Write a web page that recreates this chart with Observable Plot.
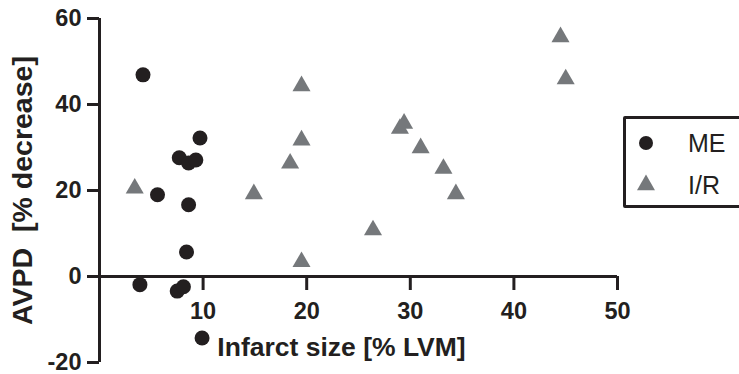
<!DOCTYPE html>
<html>
<head>
<meta charset="utf-8">
<script src="https://cdn.jsdelivr.net/npm/d3@7"></script>
<script src="https://cdn.jsdelivr.net/npm/@observablehq/plot@0.6"></script>
<style>
  html, body { margin: 0; padding: 0; background: #fff; overflow: hidden; }
  #wrap { position: relative; width: 739px; height: 374px; overflow: hidden; font-family: "Liberation Sans", Arial, sans-serif; }
  #legend { position: absolute; left: 623px; top: 116px; width: 140px; height: 86px; border: 3px solid #231f20; border-radius: 2px; box-sizing: content-box; }
  #legend svg { position: absolute; left: 0; top: 0; }
  .lab { position: absolute; left: 62px; font-size: 25px; color: #231f20; line-height: 1; }
</style>
</head>
<body>
<div id="wrap"></div>
<script>
// Data
const meX = [4.2, 5.6, 7.7, 8.6, 9.3, 9.7, 8.6, 8.4, 3.9, 7.5, 8.1, 9.9];
const meY = [46.9, 19.0, 27.6, 26.4, 27.1, 32.2, 16.7, 5.7, -1.9, -3.4, -2.4, -14.3];
const irX = [3.4, 14.9, 18.4, 19.5, 19.5, 19.5, 26.4, 29.0, 29.4, 31.0, 33.2, 34.4, 44.5, 45.0];
const irY = [20.5, 19.2, 26.3, 44.3, 31.7, 3.4, 10.8, 34.4, 35.6, 29.9, 25.1, 19.2, 55.7, 45.9];
const xTicks = [10, 20, 30, 40, 50];
const yTicks = [-20, 0, 20, 40, 60];
const seriesNames = ["ME", "I/R"];
const xTitle = "Infarct size [% LVM]";
const yTitle = "AVPD  [% decrease]";

const ink = "#231f20";
const grey = "#75787b";

const me = meX.map((x, i) => ({x, y: meY[i], s: seriesNames[0]}));
const ir = irX.map((x, i) => ({x, y: irY[i], s: seriesNames[1]}));

const W = 739, H = 374;
const mL = 99, mR = 122, mT = 18, mB = 12;
const yDom = [-20, 60];
const pxPerUnit = (H - mT - mB) / (yDom[1] - yDom[0]);
const xAxisShift = -(0 - yDom[0]) * pxPerUnit;

const chart = Plot.plot({
  width: W, height: H,
  marginLeft: mL, marginRight: mR, marginTop: mT, marginBottom: mB,
  x: {domain: [0, 50]},
  y: {domain: yDom},
  style: {fontFamily: "'Liberation Sans', Arial, sans-serif", color: ink, background: "#fff", overflow: "visible"},
  marks: [
    Plot.axisY({ticks: yTicks, tickSize: 12, tickPadding: 6, strokeWidth: 3, label: null,
      fontSize: 23.5, fontWeight: "bold", stroke: ink, fill: ink, tickFormat: d => String(d)}),
    Plot.axisX({ticks: xTicks, tickSize: 14, tickPadding: 12, strokeWidth: 3, label: null, dy: xAxisShift,
      fontSize: 23.5, fontWeight: "bold", stroke: ink, fill: ink, tickFormat: d => String(d)}),
    Plot.ruleX([0], {stroke: ink, strokeWidth: 3}),
    Plot.ruleY([0], {stroke: ink, strokeWidth: 3}),
    Plot.text([yTitle], {text: d => d, frameAnchor: "left", dx: -77, rotate: -90, fontSize: 28.5, fontWeight: "bold", fill: ink, textAnchor: "middle", lineAnchor: "middle"}),
    Plot.text([xTitle], {text: d => d, frameAnchor: "bottom", dx: -17, dy: -7, fontSize: 26.5, fontWeight: "bold", fill: ink, textAnchor: "middle", lineAnchor: "bottom"}),
    Plot.dot(ir, {x: "x", y: "y", symbol: "triangle", r: 6.7, fill: grey, stroke: "none"}),
    Plot.dot(me, {x: "x", y: "y", symbol: "circle", r: 7.5, fill: ink, stroke: "none"})
  ]
});

const wrap = document.getElementById("wrap");
wrap.appendChild(chart);

// Legend
const legend = document.createElement("div");
legend.id = "legend";
const ls = d3.create("svg").attr("width", 60).attr("height", 86);
ls.append("path").attr("d", d3.symbol(d3.symbolCircle, Math.PI * 7 * 7)()).attr("transform", "translate(20,24)").attr("fill", ink);
ls.append("path").attr("d", d3.symbol(d3.symbolTriangle, 140)()).attr("transform", "translate(20,66)").attr("fill", grey);
legend.appendChild(ls.node());
seriesNames.forEach((n, i) => {
  const d = document.createElement("div");
  d.className = "lab";
  d.textContent = n;
  d.style.top = (i === 0 ? 12 : 54) + "px";
  legend.appendChild(d);
});
wrap.appendChild(legend);
</script>
</body>
</html>
